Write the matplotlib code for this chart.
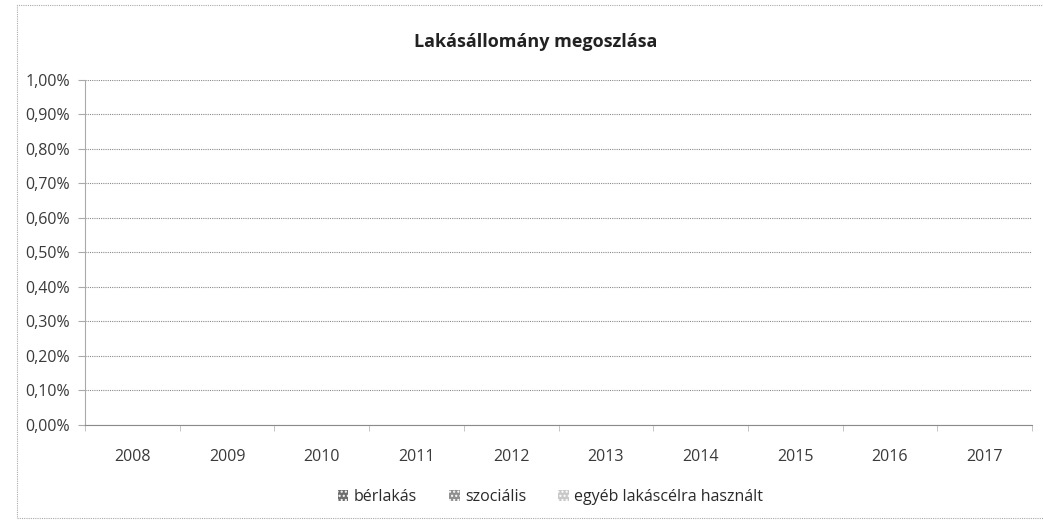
import numpy as np
import matplotlib.pyplot as plt
from matplotlib.patches import Rectangle

# === Data (the chart is empty: all values 0) ===
years = ["2008", "2009", "2010", "2011", "2012", "2013", "2014", "2015", "2016", "2017"]
berlakas = [0, 0, 0, 0, 0, 0, 0, 0, 0, 0]
szocialis = [0, 0, 0, 0, 0, 0, 0, 0, 0, 0]
egyeb = [0, 0, 0, 0, 0, 0, 0, 0, 0, 0]
yticks = [0, 0.001, 0.002, 0.003, 0.004, 0.005, 0.006, 0.007, 0.008, 0.009, 0.01]

plt.rcParams['font.family'] = ['Open Sans', 'DejaVu Sans']

fig = plt.figure(figsize=(10.43, 5.23), dpi=100)
ax = fig.add_axes([0.0815, 0.1874, 0.908, 0.6597])

x = np.arange(len(years))
b1 = np.array(berlakas)
b2 = np.array(szocialis)
b3 = np.array(egyeb)
ax.bar(x, b1, 0.6, color="#7f7f7f", hatch="....", linewidth=0, label="bérlakás")
ax.bar(x, b2, 0.6, bottom=b1, color="#a0a0a0", hatch="....", linewidth=0, label="szociális")
ax.bar(x, b3, 0.6, bottom=b1 + b2, color="#d0d0d0", hatch="....", linewidth=0,
       label="egyéb lakáscélra használt")

ax.set_xlim(-0.5, len(years) - 0.5)
ax.set_ylim(0, 0.01)
ax.set_yticks(yticks)
ax.set_yticklabels([f"{v*100:.2f}%".replace(".", ",") for v in yticks], fontsize=11.5, color="#3a3a3a")
ax.set_xticks(x)
ax.set_xticklabels(years, fontsize=11.5, color="#3a3a3a")
ax.set_xticks(np.arange(-0.5, len(years)), minor=True)
ax.tick_params(axis="x", which="major", length=0, pad=17)
ax.tick_params(axis="x", which="minor", length=4, color="#bbbbbb")
ax.tick_params(axis="y", length=5, color="#aaaaaa", pad=6)

ax.grid(axis="y", color="#8a8a8a", linestyle=(0, (1, 1)), linewidth=0.8)
ax.set_axisbelow(True)
for s in ["top", "right"]:
    ax.spines[s].set_visible(False)
ax.spines["left"].set_color("#aaaaaa")
ax.spines["left"].set_linestyle((0, (1, 1)))
ax.spines["bottom"].set_color("#8a8a8a")
ax.spines["bottom"].set_linestyle((0, (1, 1)))

fig.text(0.514, 0.92, "Lakásállomány megoszlása", ha="center", va="center",
         fontsize=13, fontweight="bold", color="#222222")

handles = [Rectangle((0, 0), 1, 1, facecolor=c, hatch="....", edgecolor="white", linewidth=0)
           for c in ["#6f6f6f", "#909090", "#c8c8c8"]]
fig.legend(handles, ["bérlakás", "szociális", "egyéb lakáscélra használt"],
           loc="center", bbox_to_anchor=(0.528, 0.05), ncol=3, frameon=False,
           fontsize=11.5, handlelength=0.65, handleheight=0.65, columnspacing=2.0,
           handletextpad=0.35, labelcolor="#2a2a2a")

# outer chart border (right edge falls outside the scan)
fig.add_artist(Rectangle((0.0163, 0.01), 1.0, 0.98, transform=fig.transFigure,
                         fill=False, edgecolor="#aaaaaa", linestyle=(0, (1, 1)), linewidth=0.8))

plt.savefig("out.png", dpi=100)
